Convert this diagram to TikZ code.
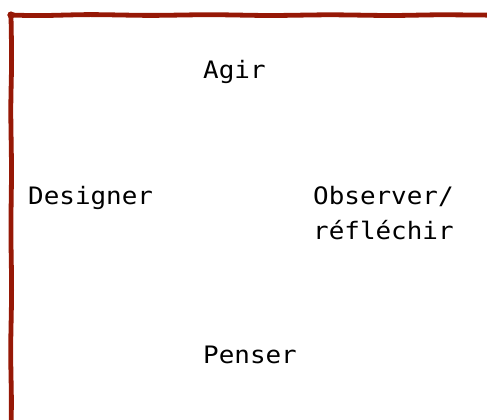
\documentclass[tikz,border=0pt]{standalone}
\usepackage{fontspec}
\newfontfamily\monofont[FakeStretch=1.08]{DejaVu Sans Mono}
\definecolor{framered}{RGB}{150,24,6}
\begin{document}
\begin{tikzpicture}[x=1pt,y=-1pt,
  word/.style={font=\monofont\fontsize{24}{35}\selectfont, inner sep=0pt, anchor=base west, align=left},
  sketchline/.style={draw=framered, line width=4.8pt, line cap=round, line join=round}]
\useasboundingbox (0,0) rectangle (487,420);
\begin{scope}
  \clip (0,0) rectangle (487,420);
  % hand-drawn frame: left side and top side
  \draw[sketchline] plot[smooth] coordinates {(11,16) (11.6,60) (10.8,110) (11.5,170) (10.9,230) (11.6,290) (10.7,350) (11.4,400) (11,430)};
  \draw[sketchline] plot[smooth] coordinates {(10,15) (40,15.6) (90,14.6) (150,15.4) (210,14.7) (270,15.5) (330,14.8) (390,15.5) (440,14.8) (495,15.2)};
  \fill[framered] (11,15) circle (3.6pt);
\end{scope}
\node[word] (agir) at (203,78) {Agir};
\node[word] (designer) at (28,204) {Designer};
% two-line label: anchored on the baseline of its last line
\node[word] (observer) at (313,239) {Observer/\\réfléchir};
\node[word] (penser) at (203,363) {Penser};
\end{tikzpicture}
\end{document}
